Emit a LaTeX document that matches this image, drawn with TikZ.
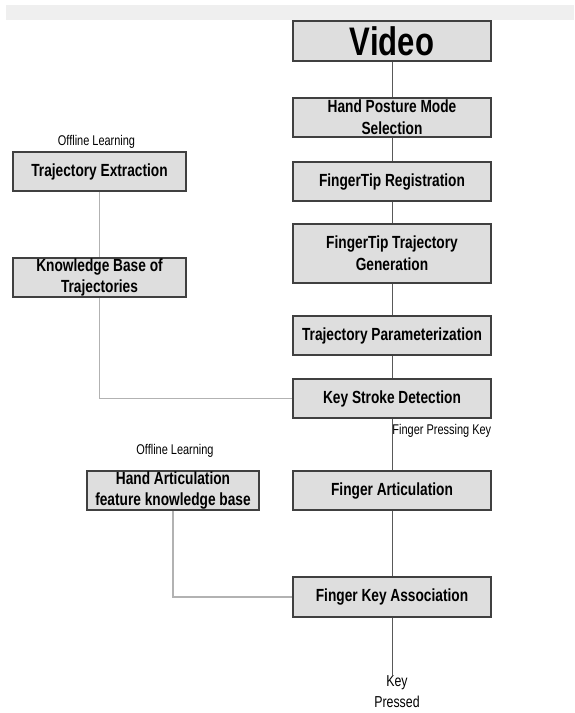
\documentclass[tikz,border=0pt]{standalone}
\usepackage{fontspec}
\setmainfont{Liberation Sans}[FakeStretch=0.78]
\definecolor{boxfill}{HTML}{DEDEDE}
\definecolor{boxline}{HTML}{404040}
\definecolor{band}{HTML}{EFEFEF}

\begin{document}
\begin{tikzpicture}[x=0.03cm, y=-0.03cm,
    stage/.style={draw=boxline, line width=1.3pt, fill=boxfill, minimum width=5.94cm,
        minimum height=1.17cm, inner sep=0pt, align=center,
        font=\bfseries\fontsize{15}{18.5}\selectfont},
    side/.style={stage, minimum width=5.19cm},
    note/.style={inner sep=0pt, font=\fontsize{12}{13}\selectfont},
    flow/.style={draw=black!65, line width=0.8pt},
    learn/.style={draw=black!30, line width=1.7pt}]
    \useasboundingbox (0,0) rectangle (574,713);
    \fill[band] (6,5) rectangle (574,20);
    % main column
    \node[stage, minimum height=1.2cm, font=\bfseries\fontsize{34}{36}\selectfont] (video) at (392,41) {Video};
    \node[stage] (mode) at (392,117.5) {Hand Posture Mode\\Selection};
    \node[stage] (reg) at (392,181.5) {FingerTip Registration};
    \node[stage, minimum height=1.77cm] (gen) at (392,253.5) {FingerTip Trajectory\\Generation};
    \node[stage] (param) at (392,335.5) {Trajectory Parameterization};
    \node[stage] (stroke) at (392,398.5) {Key Stroke Detection};
    \node[stage] (artic) at (392,490.5) {Finger Articulation};
    \node[stage, minimum height=1.2cm] (assoc) at (392,597) {Finger Key Association};
    \coordinate (out) at (392,675);
    \node[note, anchor=north, align=center, font=\fontsize{13.5}{18}\selectfont] (pressed) at (397,675) {Key\\Pressed};
    % offline learning
    \node[note] (off1) at (96.5,142) {Offline Learning};
    \node[side] (extract) at (99.5,171.5) {Trajectory Extraction};
    \node[side] (kbase) at (99.5,277.5) {Knowledge Base of\\Trajectories};
    \node[note] (off2) at (175,451) {Offline Learning};
    \node[side, minimum width=5.16cm] (hand) at (173,490.5) {Hand Articulation\\feature knowledge base};
    % connectors
    \draw[flow] (video) -- (mode);
    \draw[flow] (mode) -- (reg);
    \draw[flow] (reg) -- (gen);
    \draw[flow] (gen) -- (param);
    \draw[flow] (param) -- (stroke);
    \draw[flow] (stroke) -- node[note, anchor=north west, pos=0.1] (press) {Finger Pressing Key} (artic);
    \draw[flow] (artic) -- (assoc);
    \draw[flow] (assoc) -- (out);
    \draw[learn] (extract) -- (kbase);
    \draw[learn] (kbase) |- (stroke);
    \draw[learn] (hand) |- (assoc);
\end{tikzpicture}
\end{document}
